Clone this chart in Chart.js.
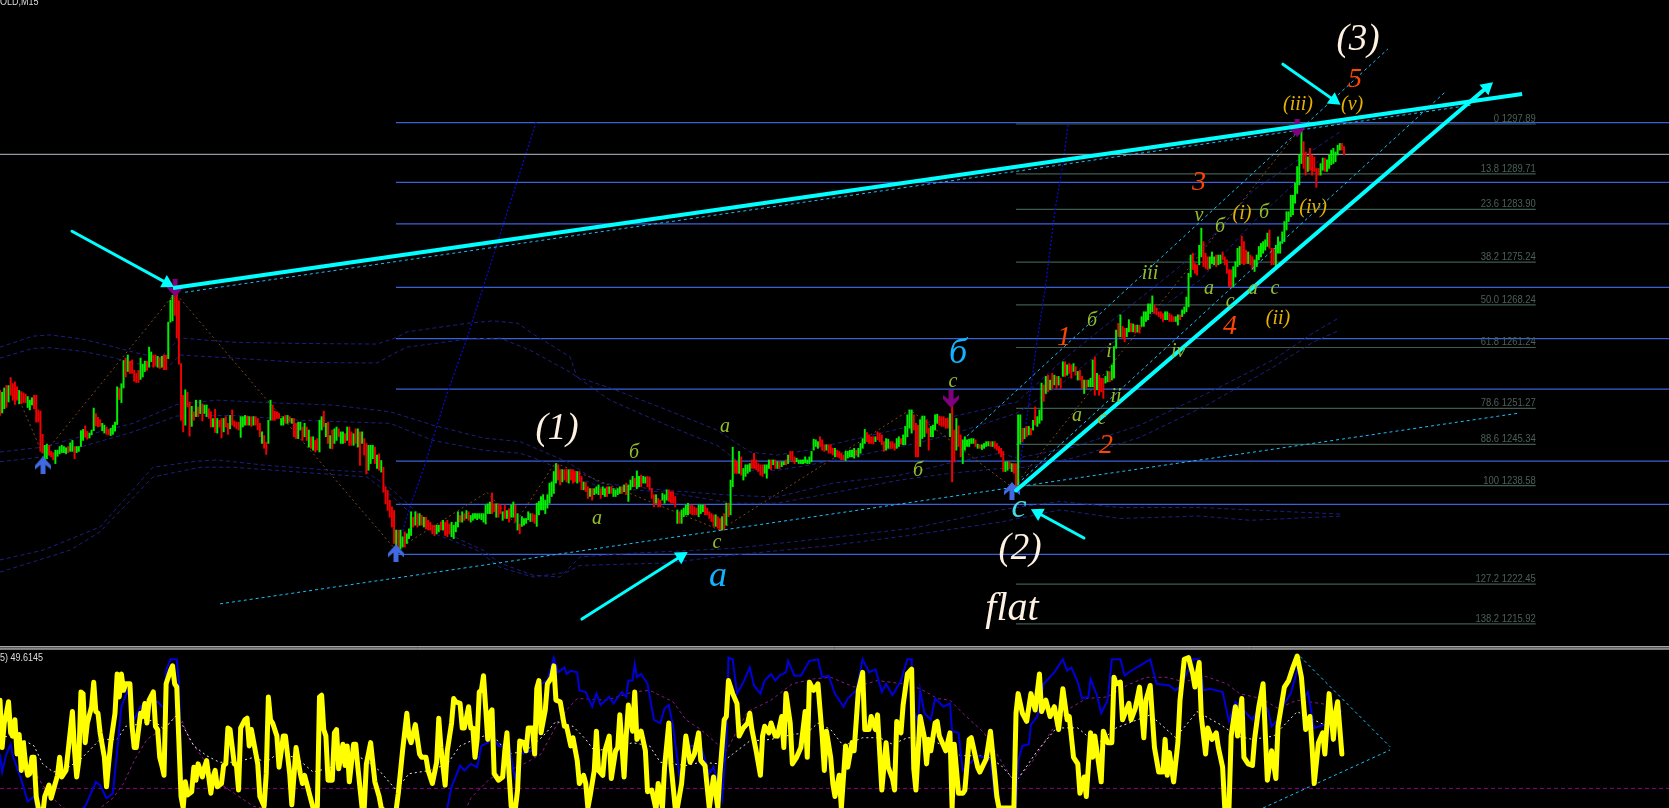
<!DOCTYPE html>
<html lang="en">
<head>
  <meta charset="UTF-8" />
  <title>GOLD,M15</title>
  <script src="https://cdn.jsdelivr.net/npm/chart.js"></script>
  <style>
    html, body { margin: 0; padding: 0; background: #000; overflow: hidden; }
    canvas { display: block; }
  </style>
</head>
<body>
  <canvas id="goldChart" width="1669" height="808"></canvas>

  <script>
    // M15 bars, one entry per bar, left to right
    const barHigh = [
      1254.2,1253.9,1254.6,1255.0,1255.0,1256.3,1255.3,1255.6,1254.8,1254.2,
      1254.0,1253.8,1253.6,1253.2,1252.6,1253.0,1253.4,1253.4,1251.0,1250.8,
      1247.0,1245.2,1245.4,1245.2,1244.2,1244.0,1244.4,1244.4,1245.0,1245.2,
      1245.0,1244.8,1245.0,1245.6,1246.0,1245.0,1245.0,1245.0,1247.6,1247.8,
      1248.4,1247.5,1247.2,1247.7,1251.3,1250.4,1249.8,1249.4,1248.8,1248.5,
      1248.2,1247.8,1248.0,1248.5,1249.0,1254.8,1254.6,1255.3,1259.1,1259.5,
      1260.0,1259.0,1259.2,1257.5,1257.0,1257.5,1259.5,1258.5,1259.0,1259.0,
      1261.3,1260.5,1260.0,1260.0,1259.8,1259.6,1259.8,1260.0,1260.0,1265.4,
      1269.0,1269.8,1270.3,1270.0,1268.9,
      1258.6,1253.4,1254.3,1253.9,1252.3,1251.6,1250.7,1252.6,1251.5,1252.6,
      1252.0,1251.8,1251.8,1251.2,1250.7,1249.6,1251.1,1249.6,1249.3,1249.6,
      1249.6,1249.9,1248.8,1250.1,1251.0,1249.2,1249.0,1249.0,1249.9,1249.9,
      1250.1,1250.0,1249.9,1249.9,1249.9,1249.9,1249.6,1248.8,1247.4,1246.8,
      1245.7,1249.3,1252.6,1251.8,1250.8,1250.7,1250.4,1249.6,1249.9,1250.1,
      1250.1,1249.9,1249.6,1249.6,1248.8,1249.0,1249.0,1248.2,1248.8,1248.2,
      1247.7,1246.6,1246.6,1246.0,1246.3,1249.3,1249.9,1250.8,1248.8,1249.0,
      1246.8,1247.7,1247.9,1248.2,1247.9,1247.4,1247.4,1247.1,1248.2,1248.2,
      1247.4,1247.1,1247.9,1247.9,1247.4,1247.4,1246.3,1245.5,1245.2,1245.2,
      1245.2,1244.9,1243.6,1243.8,1242.7,1241.6,1238.4,1237.8,1236.2,1235.1,
      1234.5,1231.3,1231.3,1231.3,1230.2,1231.0,1230.7,1231.5,1234.3,1233.4,
      1234.3,1234.0,1234.0,1233.7,1233.4,1233.4,1232.9,1232.6,1232.1,1232.1,
      1232.1,1232.1,1232.6,1232.9,1232.6,1232.9,1232.3,1232.6,1232.1,1232.6,
      1234.3,1233.7,1234.3,1234.0,1234.5,1234.3,1233.7,1234.0,1234.0,1234.0,
      1234.0,1234.0,1234.0,1235.4,1235.6,1235.9,1237.4,1235.6,1235.6,1235.6,
      1235.4,1234.3,1235.4,1234.5,1234.8,1235.4,1235.9,1235.4,1234.0,1232.3,
      1233.5,1233.2,1233.2,1234.3,1234.0,1234.0,1233.8,1235.7,1236.0,1236.8,
      1237.1,1236.2,1237.1,1239.0,1239.2,1240.9,1242.2,1242.0,1241.2,1241.2,
      1241.2,1241.3,1241.2,1241.2,1241.2,1240.9,1240.9,1240.9,1240.1,1239.2,
      1239.1,1238.4,1238.1,1238.1,1238.1,1238.4,1238.7,1238.1,1238.4,1238.1,
      1238.4,1238.4,1238.4,1238.1,1237.9,1238.1,1238.4,1238.4,1238.7,1239.0,
      1238.7,1239.5,1240.1,1239.8,1241.0,1240.1,1240.3,1240.1,1240.0,1240.1,
      1240.0,1238.1,1237.1,1237.1,1236.5,1236.2,1237.3,1237.1,1237.9,1237.9,
      1237.6,1237.6,1236.8,1234.6,1234.3,1234.6,1234.9,1235.4,1235.7,1235.4,
      1235.4,1235.1,1234.9,1235.4,1235.4,1235.4,1235.4,1234.9,1234.3,1234.0,
      1233.8,1233.8,1233.5,1233.2,1233.5,1234.0,1235.7,1235.7,1239.5,1244.9,
      1242.8,1242.5,1244.2,1243.3,1241.4,1242.0,1242.0,1242.2,1242.8,1243.9,
      1242.8,1242.2,1242.0,1242.0,1242.0,1242.0,1242.8,1242.8,1242.8,1242.8,
      1242.5,1242.5,1242.5,1242.5,1242.8,1243.6,1244.2,1244.2,1243.3,1243.1,
      1242.8,1242.8,1242.8,1243.3,1242.8,1243.3,1244.2,1246.2,1246.1,1245.8,
      1246.6,1246.1,1245.3,1245.3,1245.3,1245.3,1244.7,1244.7,1244.4,1244.2,
      1243.9,1243.6,1244.2,1244.2,1244.4,1244.4,1244.7,1244.4,1244.7,1245.5,
      1246.3,1247.8,1247.3,1246.9,1246.6,1246.6,1246.6,1247.4,1247.2,1246.9,
      1245.8,1246.3,1246.2,1245.8,1245.8,1245.5,1246.3,1246.6,1246.3,1246.9,
      1248.3,1250.2,1251.0,1251.0,1250.2,1248.8,1248.5,1249.4,1250.0,1250.0,
      1249.4,1248.0,1248.3,1248.5,1250.2,1250.3,1250.0,1249.9,1249.9,1249.6,
      1249.6,1250.4,1252.6,1247.7,1249.6,1248.4,1246.9,1246.1,1246.6,1246.1,
      1246.2,1246.3,1246.3,1246.1,1245.4,1245.3,1245.3,1245.5,1245.8,1245.8,
      1245.8,1245.8,1245.8,1245.5,1245.0,
      1244.7,1244.2,1242.5,1242.5,1242.5,1242.2,1242.2,1242.2,1250.2,1250.2,
      1248.0,1248.0,1248.3,1248.3,1248.0,1249.3,1251.5,1249.9,1251.0,1255.4,
      1255.1,1256.5,1256.7,1255.9,1257.0,1256.7,1256.5,1256.5,1256.2,1258.9,
      1258.9,1258.4,1258.6,1258.4,1258.6,1258.1,1257.3,1257.5,1256.5,1255.9,
      1255.9,1255.9,1256.2,1259.2,1259.7,1257.0,1256.7,1256.2,1256.2,1256.5,
      1257.3,1257.3,1258.4,1261.4,1264.1,1265.2,1266.6,1264.7,1264.4,1264.4,
      1265.8,1265.2,1265.1,1264.9,1264.9,1264.9,1266.3,1267.1,1267.1,1268.4,
      1268.4,1269.7,1268.2,1267.7,1267.1,1267.1,1266.8,1267.1,1267.1,1266.8,
      1266.6,1266.3,1266.3,1266.6,1266.6,1267.4,1267.9,1269.5,1273.4,1276.4,
      1276.7,1275.0,1274.8,1278.0,1280.8,1278.6,1276.7,1276.1,1276.1,1276.9,
      1276.1,1276.4,1276.4,1276.4,1276.9,1276.1,1275.6,1274.0,1274.0,1274.5,
      1275.3,1277.5,1277.8,1279.5,1278.6,1277.2,1276.9,1276.4,1276.1,1275.6,
      1276.4,1277.8,1278.3,1278.6,1278.9,1280.0,1280.5,1277.5,1277.5,1278.0,
      1279.4,1278.6,1280.2,1281.9,1283.5,1283.5,1286.2,1286.2,1288.2,1290.9,
      1292.8,1296.8,1295.0,1293.3,1292.5,1293.9,1292.8,1292.5,1290.6,1290.6,
      1291.4,1292.3,1292.3,1292.0,1292.8,1293.6,1293.9,1293.3,1294.4,1294.7,
      1294.7,1294.2
    ];
    const barLow = [
      1250.1,1250.5,1251.2,1251.4,1252.3,1253.4,1252.6,1251.9,1252.6,1252.0,
      1252.0,1252.2,1252.2,1251.4,1251.0,1251.8,1251.2,1249.0,1249.0,1244.2,
      1244.0,1242.6,1243.0,1243.6,1243.3,1242.8,1242.2,1243.4,1243.8,1244.0,
      1244.0,1243.8,1244.0,1244.2,1244.2,1243.0,1244.0,1244.2,1245.0,1246.0,
      1246.5,1246.2,1246.4,1246.9,1247.6,1248.4,1248.2,1248.3,1247.6,1247.2,
      1247.0,1246.9,1246.8,1247.0,1247.5,1248.6,1252.7,1252.2,1254.6,1256.4,
      1257.3,1257.0,1257.0,1255.7,1255.5,1255.5,1256.0,1256.4,1257.3,1257.5,
      1258.0,1258.9,1258.0,1258.2,1258.0,1257.8,1258.0,1257.6,1257.6,1259.4,
      1265.4,1265.6,1266.5,1262.8,1258.5,
      1249.3,1247.4,1248.5,1251.5,1246.7,1248.3,1249.3,1249.9,1249.9,1250.4,
      1249.2,1250.4,1249.9,1249.6,1248.2,1248.2,1247.3,1247.2,1248.2,1246.4,
      1247.4,1248.2,1247.0,1247.9,1248.5,1248.2,1247.9,1247.7,1246.5,1248.2,
      1248.5,1248.5,1248.5,1248.3,1248.5,1248.5,1247.7,1246.6,1245.5,1244.7,
      1243.7,1245.5,1249.3,1249.3,1249.3,1249.6,1249.6,1248.5,1248.5,1248.8,
      1248.8,1249.0,1248.8,1246.6,1246.3,1246.3,1247.7,1246.0,1246.6,1246.0,
      1244.9,1244.7,1244.4,1244.1,1244.4,1244.1,1247.7,1248.2,1246.6,1245.5,
      1244.7,1244.6,1245.5,1246.0,1246.6,1245.5,1245.5,1245.6,1246.0,1245.2,
      1245.2,1245.2,1245.5,1244.9,1241.9,1245.5,1243.6,1240.5,1241.1,1242.2,
      1243.0,1242.2,1241.4,1241.1,1240.8,1237.5,1235.6,1234.5,1233.4,1231.8,
      1229.1,1228.2,1228.0,1228.2,1228.5,1228.5,1229.1,1229.9,1230.4,1231.8,
      1232.1,1231.8,1232.1,1232.1,1231.8,1231.5,1231.3,1231.3,1230.7,1230.4,
      1230.7,1231.0,1231.3,1231.3,1230.4,1230.2,1230.7,1230.2,1229.9,1231.0,
      1231.8,1232.6,1232.6,1232.9,1233.2,1232.9,1232.6,1232.9,1233.2,1233.0,
      1233.2,1233.0,1232.6,1232.3,1234.0,1234.0,1234.0,1234.3,1233.4,1233.4,
      1234.0,1232.9,1233.2,1233.2,1232.6,1233.4,1233.4,1232.6,1231.3,1230.7,
      1231.9,1232.1,1232.4,1233.0,1232.7,1232.7,1232.4,1231.9,1233.8,1234.6,
      1234.6,1234.0,1234.9,1235.7,1236.8,1237.3,1239.0,1239.5,1238.7,1239.2,
      1239.5,1239.2,1239.0,1239.5,1239.0,1239.2,1239.0,1239.2,1237.9,1237.9,
      1237.6,1236.5,1236.8,1236.2,1237.1,1237.3,1237.1,1236.5,1237.1,1236.8,
      1236.8,1237.3,1237.3,1236.8,1236.8,1237.1,1237.3,1237.3,1237.6,1237.1,
      1236.0,1237.9,1238.4,1238.4,1238.1,1238.4,1238.4,1239.0,1239.0,1238.4,
      1237.9,1236.5,1235.1,1235.7,1235.1,1235.1,1236.2,1235.7,1236.2,1236.0,
      1235.7,1235.7,1235.1,1232.4,1232.4,1232.4,1233.5,1233.8,1233.8,1234.0,
      1233.8,1233.8,1233.8,1233.5,1234.0,1234.3,1233.8,1233.8,1233.2,1232.7,
      1231.9,1231.9,1231.6,1231.3,1231.3,1231.3,1232.1,1233.5,1233.8,1238.4,
      1240.6,1240.6,1240.6,1240.3,1239.5,1240.1,1240.6,1240.9,1241.4,1241.4,
      1241.2,1240.9,1240.3,1240.1,1240.6,1239.8,1241.4,1241.2,1242.0,1241.4,
      1241.4,1241.4,1241.7,1242.0,1242.0,1242.2,1242.8,1242.5,1242.2,1242.5,
      1242.2,1242.2,1242.2,1242.3,1242.2,1242.2,1242.5,1244.4,1245.0,1244.7,
      1245.0,1244.4,1244.2,1244.4,1243.9,1243.9,1243.6,1243.3,1243.3,1243.1,
      1242.8,1242.8,1242.7,1243.1,1243.3,1243.3,1243.1,1243.6,1243.3,1243.9,
      1244.7,1245.5,1245.8,1245.5,1245.5,1245.4,1245.8,1246.1,1245.8,1245.3,
      1244.2,1244.4,1244.7,1244.7,1244.7,1244.4,1244.7,1245.0,1245.4,1245.3,
      1245.3,1246.6,1248.0,1247.2,1247.7,1243.3,1243.3,1245.0,1246.3,1246.6,
      1247.2,1244.4,1246.6,1246.6,1247.7,1248.8,1248.5,1248.3,1248.3,1248.0,
      1248.0,1246.6,1239.2,1242.5,1244.4,1245.0,1243.3,1242.2,1244.4,1245.0,
      1245.0,1245.5,1245.5,1245.0,1244.7,1244.7,1244.5,1244.7,1245.0,1245.1,
      1245.0,1245.0,1244.7,1244.4,1243.9,
      1243.3,1240.9,1240.9,1241.1,1241.4,1240.9,1240.6,1238.4,1238.7,1245.5,
      1245.8,1246.3,1246.6,1246.9,1246.9,1247.7,1248.5,1248.3,1248.8,1249.3,
      1252.4,1253.7,1254.0,1254.3,1254.5,1255.1,1254.5,1255.1,1254.5,1256.5,
      1256.5,1256.7,1257.0,1256.2,1257.3,1256.7,1255.9,1255.9,1254.5,1253.7,
      1254.5,1254.8,1254.8,1254.8,1253.4,1254.3,1253.4,1254.0,1252.9,1255.4,
      1255.6,1255.6,1255.9,1256.2,1261.1,1263.0,1263.0,1262.7,1262.2,1263.0,
      1263.8,1263.8,1263.8,1263.6,1263.8,1263.6,1264.7,1264.7,1265.5,1265.8,
      1266.8,1267.1,1266.8,1266.6,1266.3,1266.0,1265.5,1265.8,1265.8,1265.5,
      1265.5,1265.5,1265.5,1264.9,1265.8,1266.3,1266.8,1267.1,1267.9,1272.8,
      1274.0,1273.4,1273.1,1274.8,1276.1,1274.5,1274.2,1274.0,1274.2,1275.0,
      1274.8,1274.5,1274.8,1275.0,1275.6,1274.8,1273.4,1271.2,1271.2,1271.2,
      1272.8,1274.5,1274.8,1275.0,1274.8,1275.0,1275.0,1274.8,1274.0,1273.7,
      1274.5,1275.6,1276.1,1276.7,1277.2,1277.8,1277.5,1274.8,1274.8,1274.5,
      1276.7,1276.7,1278.3,1278.6,1280.5,1281.9,1282.7,1283.0,1284.9,1286.5,
      1287.9,1291.4,1290.6,1289.5,1290.1,1290.3,1289.5,1290.1,1287.5,1289.5,
      1289.5,1290.3,1290.1,1290.1,1290.6,1291.2,1291.4,1291.7,1292.8,1293.6,
      1293.6,1292.8
    ];
    const barDirs = [
      "rggrgrrrrg","rrrgggrrrr","rggrrrgggg","ggrggrgggg","rrgggrrrgg",
      "rrggggrggr","grrrrrgggr","ggrrgrgrrg","ggrrr",
      "rrgrrgrgrg","rggrrgrgrr","grrgrrrrgg","grgrgrrrgr","rggrrrrggr","grgrrggrgr",
      "grgrrggrgr","grggrggrgr","rgrgrgrrgg","grgrgrrrrr","rgrggrgggr","grgrgrrrrr",
      "ggrgrrrggg","grgrgrgggg","ggggggrrgr","rgrgrggrgr",
      "gggggrrggg","gggggggrrg","rrgrrrgrrg","rrgrgggrgg","rgrggggrgr","gggrggrggr",
      "rrrgrrgggr","rrrgrggggr","rrrgggrrrr","rgrrgrgrgg","rrgrggggrr","rrrrgggrgr",
      "grggrgrrrg","gggggggggg","rrrgrrrgrr","rrgggggrgg","ggrrrrgrrr","rggrrrggrg",
      "ggggrrrggg","rrggggrrrr","rgrrgrrggg","gggrgrgggg","rgrrr",
      "rrggrgrrgg","rgrgrgrggg","rgrgrgrgrg","rgrrgrgrrg","rgggrgrrrg","grgggrgrrg",
      "grgrgrgggg","ggrrrrrggr","rrggrggggg","rrrggrrrgg","grggrrrrrg","gggrrrgrrg",
      "ggggggrrrg","gggggggggg","ggrrgrrrrr","ggrggggggg","rr"
    ].join("");

    // Fibonacci levels, labelled on the chart
    const fibPercent = ["0","13.8","23.6","38.2","50.0","61.8","78.6","88.6","100","127.2","138.2"];
    const fibPrice = [1297.89,1289.71,1283.90,1275.24,1268.24,1261.24,1251.27,1245.34,1238.58,1222.45,1215.92];
    // second fib grid, no labels
    const blueLevels = [1298.1,1288.3,1281.5,1271.1,1262.7,1254.4,1242.6,1235.5,1227.3];
    const lastPrice = 1292.9;

    // trend lines and channel, [bar, price]
    const trendThick = [[81.2,1271.0],[714.6,1302.8]];
    const channelThick = [[477,1237.8],[698.1,1303.9]];
    const pointerArrows = [
      [[33.8,1280.3],[78.4,1271.8]],
      [[273.2,1216.7],[319.7,1227.0]],
      [[508.9,1230.0],[487.3,1234.1]],
      [[602.3,1307.7],[626.3,1301.8]]
    ];
    const thinCyan = [
      [[103.3,1219.2],[713.6,1250.5]],
      [[86.9,1270.3],[691.1,1301.0]],
      [[454,1246.7],[651.6,1310.2]],
      [[475.6,1238.2],[678.4,1303.1]]
    ];
    const zigzag = [[4.7,1256.2],[20.2,1243.6],[82.2,1270.2],[185.9,1228.0],[228.6,1237.5],[241.8,1232.4],
      [260.6,1242.3],[338,1231.3],[427.2,1251.0],[475.6,1238.2],[609.4,1296.7]];
    const timeCurveA = [[251.7,1298.2],[232.4,1277.2],[219.3,1262.8],[209.9,1253.7],[198.6,1241.1],[192.5,1235.1],[185.5,1227.2]];
    const timeCurveB = [[501.4,1297.7],[499.1,1291.5],[495.3,1283.8],[490.6,1270.6],[486.9,1262.4],[482.2,1249.8],[477.9,1240.0]];

    // envelope bands
    const bandA1 = [[0,1261.3],[15.5,1263.1],[23.5,1263.3],[39,1262.6],[51.6,1261.5],[62.4,1260.5],[75,1259.5],[84.5,1262.8],
      [109.4,1262.1],[140.8,1261.9],[177,1261.8],[186.4,1262.9],[191.1,1263.8],[219.3,1265.2],[231.5,1265.6],[243.2,1265.2],
      [251,1263.3],[267.6,1259.7],[270.9,1256.4],[286.4,1254.6],[313.1,1251.0],[336.6,1247.7],[352.1,1244.1],[364.8,1243.6],
      [378.9,1244.4],[403.8,1246.4],[425.8,1248.2],[446,1249.8],[477.5,1252.3],[497.7,1258.8],[516.4,1264.1],[539.9,1270.6],
      [563.4,1277.2],[588.3,1287.0],[629.1,1296.6]];
    const bandA2 = [[0,1259.5],[15.5,1261.1],[23.5,1261.2],[39,1260.6],[51.6,1259.7],[62.4,1258.7],[78.4,1257.8],[84.5,1260.0],
      [109.4,1259.5],[140.8,1258.8],[177,1258.7],[186.4,1260.5],[191.1,1261.3],[219.3,1262.6],[234.7,1262.8],[248.8,1260.8],
      [267.6,1257.2],[286.4,1252.6],[313.1,1248.5],[336.6,1245.2],[352.1,1241.1],[364.8,1241.1],[378.9,1241.9],[403.8,1243.6],
      [425.8,1245.2],[446,1246.9],[477.5,1250.5],[497.7,1255.1],[516.4,1260.5],[539.9,1266.5],[563.4,1272.3],[588.3,1281.8],[619.7,1292.0]];
    const bandB1 = [[0,1244.1],[20.2,1244.9],[37.6,1246.6],[62.4,1248.8],[83.1,1251.9],[101.9,1252.6],[125.4,1252.2],[156.3,1251.8],
      [183.1,1250.7],[203.3,1248.5],[226.8,1246.4],[244.1,1245.8],[250.2,1244.9],[266.2,1242.5],[281.7,1239.0],[313.1,1237.8],
      [344.1,1237.0],[364.8,1236.7],[391.1,1239.0],[422.5,1240.3],[446,1242.3],[469.5,1243.9],[477.5,1243.1],[503.8,1244.9],
      [535.2,1248.5],[566.7,1253.7],[597.7,1259.2],[616.4,1263.6],[629.1,1266.2]];
    const bandB2 = [[0,1242.5],[20.2,1243.3],[37.6,1244.9],[62.4,1247.4],[83.1,1250.0],[109.4,1250.1],[140.8,1249.3],[183.1,1248.8],
      [203.3,1246.0],[226.8,1244.4],[244.1,1243.9],[250.2,1243.2],[266.2,1240.8],[281.7,1238.3],[313.1,1237.5],[344.1,1235.7],
      [364.8,1235.7],[391.1,1237.4],[422.5,1239.5],[446,1240.6],[469.5,1241.4],[477.5,1241.4],[503.8,1243.1],[535.2,1246.5],
      [566.7,1251.8],[597.7,1258.0],[616.4,1262.1],[629.1,1264.1]];
    const bandC1 = [[0,1226.4],[20.2,1228.0],[46.9,1231.8],[71.8,1241.6],[92.5,1242.6],[101.9,1242.8],[125.4,1241.9],[156.3,1241.1],
      [172.3,1240.8],[184.5,1237.8],[203.3,1231.8],[226.8,1228.0],[234.7,1225.9],[250.2,1223.9],[262.9,1223.6],[272.3,1226.9],
      [297.2,1227.5],[344.1,1228.3],[391.1,1230.1],[428.6,1231.6],[469.5,1234.6],[497.7,1236.0],[525.8,1235.0],[563.4,1235.0],
      [586.9,1234.6],[630.5,1233.9]];
    const bandC2 = [[0,1224.4],[32.9,1228.0],[46.9,1231.0],[71.8,1240.0],[93.9,1241.6],[109.4,1241.6],[140.8,1240.8],[172.3,1240.0],
      [184.5,1236.7],[203.3,1230.8],[223.9,1228.0],[234.7,1225.2],[250.2,1223.6],[266.2,1224.4],[272.3,1225.5],[313.1,1225.9],
      [344.1,1227.2],[391.1,1228.8],[428.6,1230.5],[469.5,1232.6],[497.7,1234.6],[525.8,1233.2],[563.4,1233.6],[586.9,1232.9],[630.5,1233.6]];

    const arrowsUp = [[20.2,1241.9],[185.9,1227.5],[475.1,1237.7]];
    const arrowsDown = [[82.2,1271.0],[446.5,1252.8],[609,1297.2]];

    // lower pane
    const oscLevel = 20;
    const oscTriangle = [[[610.3,100.8],[652.6,45.5]],[[593,8],[652.6,43.5]]];
    const oscYellow = [[0,74],[1,45],[2,60],[3,66],[4,73],[5,54],[6,52],[7,62],[8,41],[9,53],[10,31],[11,48],[12,35],[13,28],[14,29],[15,39],[16,39],[17,15],[18,8],[20,3],
      [21,15],[23,22],[24,14],[27,28],[28,39],[29,27],[31,31],[32,43],[34,67],[35,43],[36,27],[37,37],[38,79],[39,78],[40,48],[41,60],[43,70],[44,85],[45,67],[46,66],
      [47,54],[49,39],[50,21],[51,35],[52,48],[54,66],[55,90],[56,76],[57,90],[58,80],[59,84],[61,84],[62,58],[63,45],[64,45],[66,66],[67,64],[68,72],[69,60],[70,74],
      [72,79],[73,58],[74,56],[75,39],[76,34],[77,28],[78,84],[80,92],[81,95],[82,84],[83,82],[84,48],[85,15],[86,8],[87,24],[88,16],[90,18],[91,33],[92,25],[93,35],
      [95,27],[96,33],[97,37],[99,17],[100,27],[101,31],[102,21],[104,23],[105,34],[106,35],[107,57],[108,56],[110,35],[111,34],[112,19],[113,57],[115,62],[116,63],[117,46],[118,56],
      [121,35],[122,15],[124,9],[125,29],[126,76],[127,62],[128,60],[130,52],[131,33],[133,52],[134,52],[136,29],[137,10],[139,45],[141,29],[142,23],[143,28],[146,13],[147,8],[149,9],
      [150,76],[151,77],[152,56],[153,52],[154,25],[156,25],[157,54],[158,56],[159,32],[161,47],[162,34],[163,46],[164,24],[166,47],[167,47],[168,33],[170,8],[171,8],[172,35],[174,48],
      [176,24],[178,15],[179,8],[183,3],[186,7],[187,17],[189,43],[191,66],[192,52],[193,48],[195,59],[197,41],[198,39],[200,39],[201,31],[203,23],[205,36],[206,63],[207,45],[209,22],
      [210,43],[212,60],[213,75],[214,73],[216,72],[217,57],[218,57],[220,70],[221,57],[222,57],[223,39],[224,50],[225,79],[226,80],[227,89],[229,50],[230,66],[231,68],[232,29],[234,25],
      [236,27],[237,43],[238,54],[239,29],[240,9],[242,8],[243,19],[244,49],[246,48],[247,43],[248,57],[250,57],[251,41],[252,81],[253,86],[254,54],[256,68],[257,84],[259,88],[260,95],
      [261,74],[263,73],[265,58],[266,58],[268,46],[269,51],[271,37],[272,23],[274,28],[275,23],[276,8],[277,15],[279,31],[280,55],[281,31],[283,28],[284,43],[286,52],[287,26],[289,43],
      [290,45],[291,65],[293,27],[294,52],[295,71],[297,55],[298,79],[299,50],[301,55],[303,43],[304,18],[306,19],[308,7],[309,23],[311,8],[312,33],[314,60],[315,35],[317,8],[318,8],
      [320,23],[322,52],[324,36],[326,41],[328,54],[329,37],[331,34],[333,8],[335,27],[337,8],[338,29],[340,62],[341,64],[342,86],[344,78],[346,72],[347,52],[349,57],[351,60],[352,66],
      [353,56],[355,43],[357,28],[358,52],[359,58],[361,54],[362,60],[364,52],[365,52],[367,64],[368,45],[369,78],[371,60],[372,35],[374,39],[376,45],[378,67],[379,39],[380,85],[382,80],
      [384,84],[386,52],[387,31],[388,55],[390,39],[391,23],[392,15],[394,28],[395,8],[397,46],[398,33],[400,48],[401,43],[403,80],[405,91],[406,56],[408,56],[409,64],[411,56],[412,65],
      [414,19],[416,48],[417,33],[419,26],[420,19],[421,61],[423,54],[424,71],[426,90],[428,93],[429,32],[430,19],[432,64],[434,51],[435,35],[436,50],[437,43],[439,60],[440,61],[441,52],
      [444,43],[446,54],[447,8],[448,47],[450,17],[452,17],[453,19],[455,50],[456,51],[459,33],[460,30],[463,38],[465,55],[467,29],[468,15],[469,8],[476,8],[477,66],[478,78],[480,66],
      [482,61],[484,78],[486,68],[488,90],[489,67],[491,74],[493,64],[495,70],[497,56],[499,81],[501,62],[502,64],[504,39],[506,35],[507,17],[509,27],[510,15],[512,54],[513,39],[514,52],
      [517,24],[518,55],[520,48],[522,48],[523,88],[524,84],[526,85],[527,62],[530,72],[531,62],[533,69],[535,82],[537,51],[538,74],[540,83],[542,45],[544,30],[546,30],[547,50],[548,28],
      [549,42],[551,24],[553,48],[554,74],[556,99],[558,100],[560,90],[561,82],[563,97],[564,64],[566,41],[567,57],[569,50],[571,54],[572,45],[574,33],[575,8],[577,8],[578,52],[580,70],
      [581,52],[583,75],[584,39],[586,35],[588,34],[589,50],[591,70],[593,84],[595,25],[597,43],[599,26],[600,58],[603,82],[605,86],[607,94],[609,101],[611,88],[613,56],[615,64],[616,45],
      [617,23],[619,48],[621,54],[622,41],[624,78],[626,50],[627,66],[628,73],[630,41]];
    const oscBlue = [[0,41],[1,30],[3,41],[5,47],[6,40],[9,29],[11,21],[13,12],[16,15],[17,8],[20,-1],[38,-1],[39,8],[40,9],[42,15],[45,24],[47,22],[50,14],[53,17],[55,43],
      [57,70],[60,80],[63,62],[66,70],[69,73],[74,73],[77,69],[78,92],[80,99],[83,99],[84,84],[85,43],[86,8],[88,-1],[208,-1],[210,8],[212,21],[216,34],[218,31],[221,35],
      [224,33],[226,46],[232,50],[234,46],[236,46],[239,47],[241,31],[242,26],[244,41],[250,43],[253,69],[254,84],[257,86],[260,100],[262,91],[265,94],[266,90],[268,92],[271,91],[272,80],
      [275,79],[278,70],[280,78],[282,71],[286,76],[288,72],[292,79],[294,76],[295,86],[297,86],[298,96],[299,88],[301,90],[304,84],[307,62],[310,60],[312,69],[314,71],[316,58],[319,28],
      [324,46],[329,46],[333,29],[335,33],[339,13],[341,50],[342,100],[344,99],[346,78],[349,85],[352,94],[354,83],[357,78],[359,86],[362,90],[364,86],[366,89],[369,91],[370,98],[373,89],
      [376,89],[380,98],[384,99],[386,88],[389,89],[392,78],[396,70],[398,75],[402,80],[405,99],[408,91],[411,93],[414,79],[416,84],[419,77],[423,86],[426,99],[428,99],[429,68],[431,60],
      [432,80],[434,66],[437,62],[439,75],[443,70],[446,72],[447,55],[450,54],[452,31],[459,40],[465,38],[467,15],[473,-1],[477,8],[478,37],[480,46],[483,47],[484,59],[487,64],[490,84],
      [495,91],[499,99],[501,92],[503,94],[506,85],[508,75],[511,76],[512,87],[515,77],[517,66],[520,74],[522,99],[526,99],[528,89],[531,92],[535,95],[540,99],[543,84],[549,83],[552,80],
      [555,84],[560,99],[563,99],[565,80],[568,81],[574,79],[577,61],[580,73],[583,69],[588,62],[592,72],[595,69],[597,58],[600,62],[603,72],[606,78],[610,97],[612,75],[614,79],[617,57],
      [622,59],[628,64],[630,68]];
    const oscMagenta = [[16,31],[20,22],[27,11],[30,8],[39,3],[47,8],[53,14],[58,23],[63,37],[69,50],[77,57],[84,66],[89,50],[95,39],[103,23],[110,17],[119,9],[128,7],[149,-1],[203,-1],
      [216,-1],[221,14],[230,26],[246,35],[254,41],[261,58],[266,68],[271,75],[285,74],[297,79],[305,80],[316,73],[322,62],[329,56],[336,48],[341,43],[351,67],[362,74],[372,84],[382,87],
      [390,88],[401,82],[412,86],[424,84],[432,81],[440,75],[446,74],[452,66],[462,54],[468,41],[476,24],[484,35],[493,54],[501,68],[510,75],[520,76],[529,83],[538,88],[548,88],[556,85],
      [565,89],[576,84],[582,78],[592,75],[600,69],[609,74],[625,71]];
    const oscWhite = [[0,52],[9,51],[16,46],[20,35],[25,30],[31,32],[38,38],[47,50],[55,50],[59,58],[64,59],[72,62],[77,56],[83,65],[86,58],[91,46],[97,40],[103,36],[111,36],[119,39],
      [125,36],[130,41],[139,39],[147,30],[156,33],[163,43],[172,37],[178,31],[186,19],[192,29],[202,31],[210,35],[216,46],[221,49],[227,52],[233,50],[239,41],[247,43],[255,52],[261,61],
      [269,58],[275,50],[279,43],[290,45],[297,48],[305,46],[310,36],[322,34],[329,36],[338,35],[344,41],[352,49],[362,50],[372,53],[379,54],[384,60],[390,56],[396,46],[405,51],[413,51],
      [419,47],[426,51],[432,51],[440,48],[451,40],[463,40],[470,34],[477,24],[487,43],[496,57],[506,57],[515,47],[524,57],[534,62],[540,65],[552,51],[562,67],[573,59],[581,52],[588,50],
      [598,52],[609,67],[615,63],[625,57]];

    // wave counts: text, bar, price, style
    const waveLabels = [
      ["(3)",637.6,1311.6,"big"],["(1)",261.5,1247.8,"big"],["(2)",478.9,1228.2,"big"],["flat",475.1,1218.2,"flat"],
      ["5",636.2,1305.2,"impulse"],["3",562.9,1288.2,"impulse"],["1",499.5,1262.8,"impulse"],["2",519.2,1245.1,"impulse"],["4",577.5,1264.6,"impulse"],
      ["(iii)",609.4,1301.1,"minute"],["(v)",634.8,1301.1,"minute"],["(iv)",616.5,1284.1,"minute"],["(i)",583.1,1283.1,"minute"],["(ii)",600,1266.0,"minute"],
      ["v",562.9,1282.9,"minor"],["б",572.8,1281.0,"minor"],["б",593.4,1283.3,"minor"],["iii",539.9,1273.4,"minor"],["б",512.7,1265.7,"minor"],
      ["i",520.7,1260.5,"minor"],["iv",553.1,1260.5,"minor"],["ii",524,1253.1,"minor"],["a",505.6,1250.0,"minor"],["c",517.4,1249.6,"minor"],
      ["a",567.6,1270.8,"minor"],["c",577.5,1268.7,"minor"],["a",588.3,1270.8,"minor"],["c",598.6,1270.8,"minor"],
      ["a",340.4,1248.2,"minor"],["б",297.7,1243.9,"minor"],["a",280.3,1233.1,"minor"],["c",336.6,1229.3,"minor"],["c",447.4,1255.6,"minor"],["б",431,1241.0,"minor"],
      ["б",449.8,1260.3,"flatLeg"],["a",337.1,1223.6,"flatLeg"],["c",478.4,1234.9,"flatEnd"]
    ];
    const waveStyles = {
      big: ["italic 37px 'Liberation Serif'", "#fff2e2"],
      flat: ["italic 40px 'Liberation Serif'", "#fff2e2"],
      impulse: ["italic 28px 'Liberation Serif'", "#ff4500"],
      minute: ["italic 20px 'Liberation Serif'", "#e6b400"],
      minor: ["italic 20px 'Liberation Serif'", "#94bd2e"],
      flatLeg: ["italic 36px 'Liberation Serif'", "#12b4ff"],
      flatEnd: ["italic 34px 'Liberation Serif'", "#45dde6"]
    };

    const pxPerBar = 2.13;
    const pxPerPrice = 1 / 0.16398;
    const fibStart = 477, fibEnd = 721, blueStart = 185.9, chartEnd = 1669 / pxPerBar;
    const priceTop = 1318.22, priceBottom = priceTop - 808 / pxPerPrice;

    const pts = list => list.map(p => ({ x: p[0], y: p[1] }));

    function line(list, color, width, dash, order, yAxisID) {
      return {
        type: 'line', data: pts(list), borderColor: color, borderWidth: width,
        borderDash: dash || [], pointRadius: 0, tension: 0, order: order,
        yAxisID: yAxisID || 'y'
      };
    }

    function arrowLine(list, width) {
      const ds = line(list, '#00ffff', width, null, 0);
      ds.borderCapStyle = 'round';
      ds.pointRadius = [0, 8];
      ds.pointStyle = 'triangle';
      ds.pointBackgroundColor = '#00ffff';
      ds.pointBorderColor = '#00ffff';
      ds.pointBorderWidth = 0;
      const dx = (list[1][0] - list[0][0]) * pxPerBar;
      const dy = (list[1][1] - list[0][1]) * pxPerPrice;
      ds.pointRotation = Math.atan2(dx, dy) * 180 / Math.PI;
      return ds;
    }

    function markerImage(color, down) {
      const c = document.createElement('canvas');
      c.width = 16; c.height = 18;
      const g = c.getContext('2d');
      if (down) { g.translate(0, 18); g.scale(1, -1); }
      g.fillStyle = color;
      g.beginPath();
      g.moveTo(8, 0); g.lineTo(16, 9); g.lineTo(16, 13); g.lineTo(10.5, 8.5); g.lineTo(10.5, 18);
      g.lineTo(5.5, 18); g.lineTo(5.5, 8.5); g.lineTo(0, 13); g.lineTo(0, 9);
      g.closePath(); g.fill();
      return c;
    }

    function markers(list, color, down) {
      return {
        type: 'line', data: pts(list), showLine: false, order: 1, yAxisID: 'y',
        pointStyle: markerImage(color, down), pointRadius: 9
      };
    }

    // the terminal font is narrower than anything installed
    function narrowText(g, text, x, y) {
      g.save();
      g.translate(x, y);
      g.scale(0.82, 1);
      g.fillText(text, 0, 0);
      g.restore();
    }

    const labelPlugin = {
      id: 'labels',
      afterDatasetsDraw(chart) {
        const g = chart.ctx, x = chart.scales.x, y = chart.scales.y;
        g.save();
        g.textBaseline = 'middle';
        g.textAlign = 'center';
        waveLabels.forEach(l => {
          g.font = waveStyles[l[3]][0];
          g.fillStyle = waveStyles[l[3]][1];
          g.fillText(l[0], x.getPixelForValue(l[1]), y.getPixelForValue(l[2]));
        });
        g.textAlign = 'right';
        g.textBaseline = 'alphabetic';
        g.font = "11.5px 'Liberation Sans'";
        g.fillStyle = '#4a6058';
        fibPercent.forEach((p, i) => {
          narrowText(g, p + ' ' + fibPrice[i].toFixed(2), x.getPixelForValue(fibEnd), y.getPixelForValue(fibPrice[i]) - 2);
        });
        g.textAlign = 'left';
        g.font = "11px 'Liberation Sans'";
        g.fillStyle = '#dddddd';
        narrowText(g, 'OLD,M15', 0, 5);
        narrowText(g, '5) 49.6145', 0, 661);
        g.restore();
      }
    };

    const bands = [bandA1, bandA2, bandB1, bandB2, bandC1, bandC2];
    const oscYellowLine = line(oscYellow, '#ffff00', 5, null, 1, 'y2');
    oscYellowLine.borderJoinStyle = 'round';
    oscYellowLine.borderCapStyle = 'round';
    const datasets = [
      {
        type: 'bar', order: 5, yAxisID: 'y', barThickness: 1.3, borderWidth: 0,
        data: barHigh.map((h, i) => ({ x: i, y: [barLow[i], h] })),
        backgroundColor: barHigh.map((h, i) => barDirs[i] === 'g' ? '#00f000' : '#f00000')
      },
      line(trendThick, '#00ffff', 4, null, 0),
      arrowLine(channelThick, 4),
      line(zigzag, '#7b4a20', 1, [2, 3], 7),
      line(timeCurveA, '#0a0ad8', 1.2, [2, 2], 7),
      line(timeCurveB, '#0a0ad8', 1.2, [2, 2], 7),
      line([[0, lastPrice], [chartEnd, lastPrice]], '#8f98a0', 1.2, null, 6),
      line([[0, 1212.15], [chartEnd, 1212.15]], '#ffffff', 1, null, 6),
      line([[0, 1211.8], [chartEnd, 1211.8]], '#ffffff', 1, null, 6),
      line([[0, oscLevel], [chartEnd, oscLevel]], '#8b008b', 1, [4, 3], 4, 'y2'),
      line(oscWhite, '#e6e6e6', 1, [2, 3], 3, 'y2'),
      line(oscMagenta, '#8b1a8b', 1, [3, 3], 3, 'y2'),
      line(oscBlue, '#0000d8', 2, null, 2, 'y2'),
      oscYellowLine,
      markers(arrowsUp, '#4169e1', false),
      markers(arrowsDown, '#800080', true)
    ];
    pointerArrows.forEach(a => datasets.push(arrowLine(a, 3)));
    thinCyan.forEach(a => datasets.push(line(a, '#19bfff', 1, [3, 3], 3)));
    oscTriangle.forEach(a => datasets.push(line(a, '#19bfff', 1, [3, 3], 3, 'y2')));
    bands.forEach(b => datasets.push(line(b, '#1e1e82', 1, [4, 3], 7)));
    blueLevels.forEach(v => datasets.push(line([[blueStart, v], [chartEnd, v]], '#3a62d8', 1.2, null, 8)));
    fibPrice.forEach(v => datasets.push(line([[fibStart, v], [fibEnd, v]], '#3f5a50', 1.2, null, 9)));

    new Chart(document.getElementById('goldChart'), {
      type: 'bar',
      data: { datasets: datasets },
      options: {
        responsive: false,
        devicePixelRatio: 1,
        animation: false,
        layout: { padding: 0, autoPadding: false },
        plugins: { legend: { display: false }, tooltip: { enabled: false } },
        scales: {
          x: { type: 'linear', min: 0, max: chartEnd, offset: false, display: false },
          y: { min: priceBottom, max: priceTop, display: false },
          y2: { min: 8, max: 502.5, display: false }
        }
      },
      plugins: [labelPlugin]
    });
  </script>
</body>
</html>
